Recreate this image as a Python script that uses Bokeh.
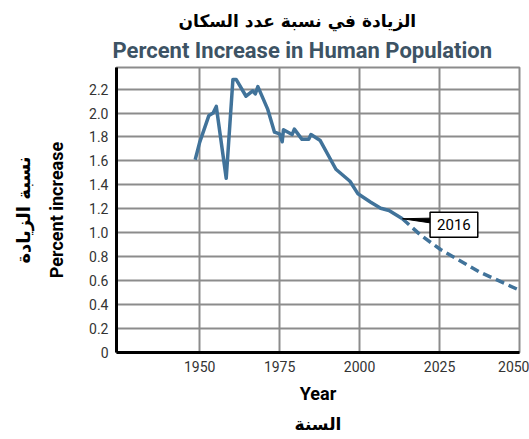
from bokeh.plotting import figure
from bokeh.models import Title, Label, FixedTicker, Range1d
from bokeh.embed import file_html
from bokeh.resources import INLINE

# ---- data ----
years_obs = [1948.6, 1950.0, 1952.9, 1954.2, 1955.2, 1958.3, 1960.4, 1961.4, 1964.5,
             1966.6, 1967.4, 1968.2, 1971.3, 1973.4, 1975.0, 1975.8, 1976.2, 1978.9,
             1979.6, 1982.0, 1984.1, 1984.8, 1987.7, 1992.6, 1997.0, 1999.5, 2003.5,
             2006.6, 2009.2, 2013.4]
pct_obs = [1.61, 1.755, 1.98, 2.00, 2.055, 1.455, 2.28, 2.28, 2.14,
           2.185, 2.16, 2.22, 2.03, 1.84, 1.825, 1.76, 1.86, 1.82,
           1.865, 1.78, 1.78, 1.82, 1.77, 1.53, 1.43, 1.325, 1.255,
           1.205, 1.186, 1.117]
years_proj = [2013.4, 2019.1, 2025.3, 2037.7, 2050.0]
pct_proj = [1.117, 0.98, 0.86, 0.67, 0.52]

x_ticks = [1950, 1975, 2000, 2025, 2050]
y_ticks = [0, 0.2, 0.4, 0.6, 0.8, 1.0, 1.2, 1.4, 1.6, 1.8, 2.0, 2.2]
y_tick_labels = ["0", "0.2", "0.4", "0.6", "0.8", "1.0", "1.2", "1.4", "1.6", "1.8", "2.0", "2.2"]
callout_text = "2016"

title_ar = "الزيادة في نسبة عدد السكان"
title_en = "Percent Increase in Human Population"
xlabel_en = "Year"
xlabel_ar = "السنة"
ylabel_en = "Percent increase"
ylabel_ar = "نسبة الزيادة"

LINE = "#41739a"
GRID = "#8c8c8c"
FONT = "Roboto"
AR_FONT = "DejaVu Sans"

p = figure(width=529, height=439, x_range=Range1d(1924, 2050), y_range=Range1d(0, 2.38),
           output_backend="svg", toolbar_location=None,
           min_border_left=116, min_border_right=10, min_border_top=67, min_border_bottom=87)

# titles (p.title is outermost)
p.title = Title(text=title_ar, align="left", offset=62, text_font=AR_FONT,
                text_font_size="17px", text_font_style="bold", text_color="black", standoff=1)
p.add_layout(Title(text=title_en, align="left", offset=-4, text_font=FONT, text_font_size="22px",
                   text_font_style="bold", text_color="#3d5364", standoff=9), "above")
p.add_layout(Title(text=xlabel_ar, align="center", text_font=AR_FONT, text_font_size="17px",
                   text_font_style="bold", text_color="black"), "below")
p.add_layout(Title(text=ylabel_ar, align="center", text_font=AR_FONT, text_font_size="18px",
                   text_font_style="bold", text_color="black", standoff=20), "left")

# axes
for ax in (p.xaxis[0], p.yaxis[0]):
    ax.axis_line_width = 3
    ax.axis_line_color = "black"
    ax.major_tick_in = 0
    ax.major_tick_out = 0
    ax.minor_tick_line_color = None
    ax.major_label_text_font = FONT
    ax.major_label_text_font_size = "14px"
    ax.major_label_text_color = "#333333"
    ax.axis_label_text_font = FONT
    ax.axis_label_text_font_size = "18px"
    ax.axis_label_text_font_style = "bold"
    ax.axis_label_text_color = "black"

p.xaxis.ticker = FixedTicker(ticks=x_ticks)
p.yaxis.ticker = FixedTicker(ticks=y_ticks)
p.yaxis.major_label_overrides = {t: l for t, l in zip(y_ticks, y_tick_labels)}
p.xaxis.axis_label = xlabel_en
p.yaxis.axis_label = ylabel_en
p.xaxis.major_label_standoff = 8
p.yaxis.major_label_standoff = 8
p.xaxis.axis_label_standoff = 8
p.yaxis.axis_label_standoff = 19

p.xgrid.ticker = FixedTicker(ticks=x_ticks)
p.ygrid.ticker = FixedTicker(ticks=y_ticks)
for g in (p.xgrid[0], p.ygrid[0]):
    g.grid_line_color = GRID
    g.grid_line_width = 2
p.outline_line_color = GRID
p.outline_line_width = 2

# data lines
p.line(years_obs, pct_obs, line_width=3.5, line_color=LINE, line_join="round")
p.line(years_proj, pct_proj, line_width=3.5, line_color=LINE, line_dash="9 5")

# callout
ax0, ay0 = years_proj[0], pct_proj[0]
p.patch([ax0, ax0 + 8.8, ax0 + 8.8], [ay0, ay0 + 0.005, ay0 - 0.035], color="black")
p.add_layout(Label(x=ax0 + 16.1, y=ay0 - 0.05, text=callout_text, text_align="center",
                   text_baseline="middle", text_font=FONT, text_font_size="15px",
                   text_color="black", background_fill_color="white",
                   border_line_color="black", border_line_width=1.5, padding=7))

open("out.html", "w").write(file_html(p, INLINE))
